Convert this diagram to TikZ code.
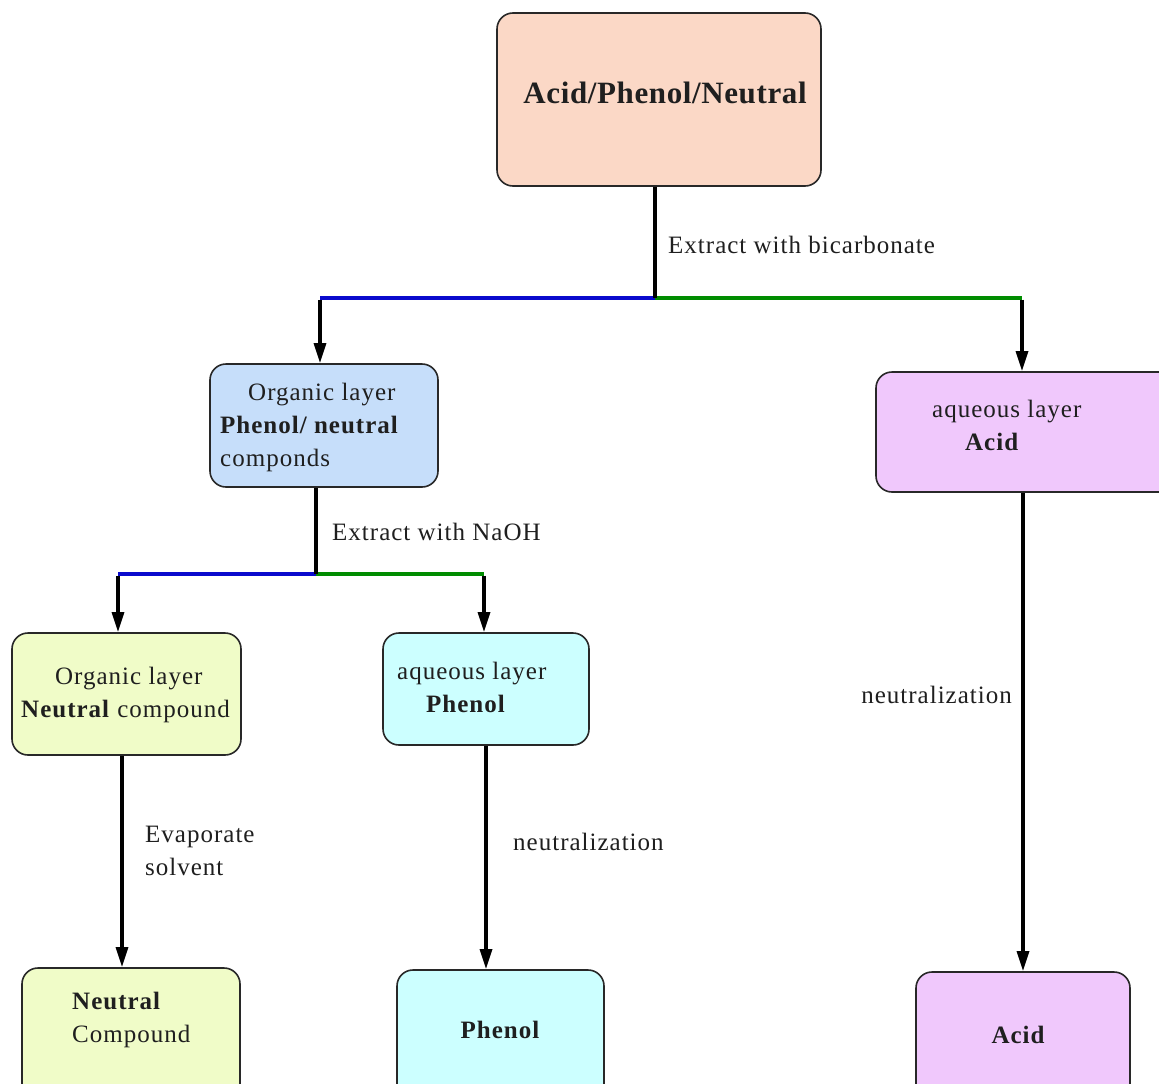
\documentclass[tikz,border=0pt]{standalone}
\usepackage{fontspec}
\setmainfont{Liberation Serif}
\newfontfamily\tms{Liberation Serif}[LetterSpace=4]
\newfontfamily\tmstitle{Liberation Serif}[LetterSpace=2]
\usetikzlibrary{arrows.meta}

\definecolor{cPeach}{RGB}{251,216,198}
\definecolor{cSky}{RGB}{198,222,250}
\definecolor{cLilac}{RGB}{240,200,252}
\definecolor{cLime}{RGB}{240,252,200}
\definecolor{cAqua}{RGB}{204,255,255}
\definecolor{cBlue}{RGB}{10,10,205}
\definecolor{cGreen}{RGB}{0,140,0}
\definecolor{cEdge}{RGB}{40,40,40}

\tikzset{
  box/.style={draw=cEdge, line width=1.6pt, rounded corners=16pt, inner sep=0pt},
  lbl/.style={font=\tms\fontsize{25}{33}\selectfont, inner sep=0pt, text=black!88},
  stem/.style={line width=3.2pt, draw=black},
  arr/.style={line width=3.2pt, draw=black, -{Triangle[length=20pt,width=12pt]}},
  bluebar/.style={line width=4pt, draw=cBlue},
  greenbar/.style={line width=4pt, draw=cGreen},
}

\begin{document}
\begin{tikzpicture}[x=1pt,y=-1pt]
\useasboundingbox (0,0) rectangle (1159,1084);
\clip (0,0) rectangle (1159,1084);
\fill[white] (0,0) rectangle (1159,1084);

% boxes
\node[box, fill=cPeach, minimum width=324pt, minimum height=173pt] (top) at (659,99.5) {};
\node[box, fill=cSky, minimum width=228pt, minimum height=123pt] (org1) at (324,425.5) {};
\node[box, fill=cLilac, minimum width=299pt, minimum height=120pt] (aqA) at (1025.5,432) {};
\node[box, fill=cLime, minimum width=229pt, minimum height=122pt] (org2) at (126.5,694) {};
\node[box, fill=cAqua, minimum width=206pt, minimum height=112pt] (aqP) at (486,689) {};
\node[box, fill=cLime, minimum width=218pt, minimum height=132pt] (neut) at (131,1034) {};
\node[box, fill=cAqua, minimum width=207pt, minimum height=130pt] (phen) at (500.5,1035) {};
\node[box, fill=cLilac, minimum width=214pt, minimum height=128pt] (acid) at (1023,1036) {};

% box texts
\node[lbl, font=\tmstitle\fontsize{31}{36}\selectfont\bfseries] (tTop) at (665,93) {Acid/Phenol/Neutral};
\node[lbl, align=left, anchor=west] (tOrg1) at (220,427) {\hspace*{28pt}Organic layer\\\textbf{Phenol/ neutral}\\componds};
\node[lbl, align=left, anchor=west] (tAqA) at (932,425) {aqueous layer\\\hspace*{33pt}\textbf{Acid}};
\node[lbl, align=left, anchor=west] (tOrg2) at (21,695) {\hspace*{34pt}Organic layer\\\textbf{Neutral} compound};
\node[lbl, align=left, anchor=west] (tAqP) at (397,687) {aqueous layer\\\hspace*{29pt}\textbf{Phenol}};
\node[lbl, align=left, anchor=west] (tNeut) at (72,1020) {\textbf{Neutral}\\Compound};
\node[lbl, font=\tms\fontsize{25}{33}\selectfont\bfseries] (tPhen) at (500,1030) {Phenol};
\node[lbl, font=\tms\fontsize{25}{33}\selectfont\bfseries] (tAcid) at (1018,1035) {Acid};

% junction points
\coordinate (j1) at (655,298);
\coordinate (jL) at (320,298);
\coordinate (jR) at (1022,298);
\coordinate (j2) at (316,574);
\coordinate (jL2) at (118,574);
\coordinate (jR2) at (484,574);
\coordinate (c3) at (122,0);

% first split: bicarbonate extraction
\draw[bluebar] (j1) -- (jL);
\draw[greenbar] (j1) -- (jR);
\draw[stem] (top.south -| j1) -- (j1);
\draw[arr] ([yshift=-1.5pt]jL) -- (jL |- org1.north);
\draw[arr] ([yshift=-1.5pt]jR) -- (jR |- aqA.north);
\node[lbl, anchor=west] (eBic) at (668,245) {Extract with bicarbonate};

% second split: NaOH extraction
\draw[bluebar] (j2) -- (jL2);
\draw[greenbar] (j2) -- (jR2);
\draw[stem] (org1.south -| j2) -- (j2);
\draw[arr] ([yshift=-1.5pt]jL2) -- (jL2 |- org2.north);
\draw[arr] ([yshift=-1.5pt]jR2) -- (jR2 |- aqP.north);
\node[lbl, anchor=west] (eNaOH) at (332,532) {Extract with NaOH};

% final steps
\draw[arr] (org2.south -| c3) -- (neut.north -| c3);
\node[lbl, align=left, anchor=west] (eEvap) at (145,851) {Evaporate\\solvent};

\draw[arr] (aqP.south) -- (aqP.south |- phen.north);
\node[lbl, anchor=west] (eNeu1) at (513,842) {neutralization};

\draw[arr] (acid.north |- aqA.south) -- (acid.north);
\node[lbl, anchor=east] (eNeu2) at (1012,695) {neutralization};
\end{tikzpicture}
\end{document}
